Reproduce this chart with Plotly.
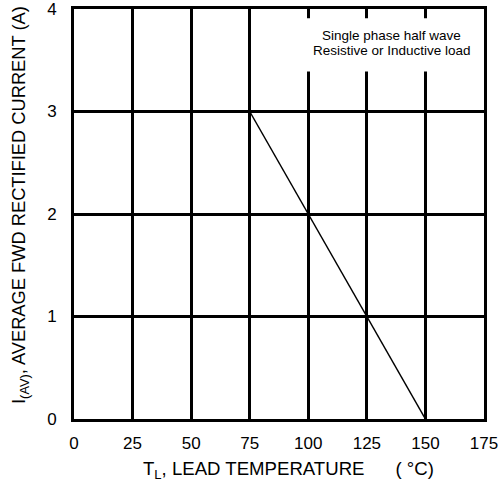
import plotly.graph_objects as go

# Data
temp_c = [75, 100, 125, 150]
current_a = [3, 2, 1, 0]
x_ticks = [0, 25, 50, 75, 100, 125, 150, 175]
y_ticks = [0, 1, 2, 3, 4]
note_lines = ["Single phase half wave", "Resistive or Inductive load"]
x_title = "T<sub>L</sub>, LEAD TEMPERATURE      ( °C)"
y_title = "I<sub>(AV)</sub>, AVERAGE FWD RECTIFIED CURRENT (A)"

FONT = "Liberation Sans, Arial, sans-serif"

fig = go.Figure()
fig.add_trace(go.Scatter(x=temp_c, y=current_a, mode="lines",
                         line=dict(color="black", width=1.5),
                         hoverinfo="skip", showlegend=False, cliponaxis=False))

# white box behind the note
fig.add_shape(type="rect", xref="x", yref="y", x0=96.5, x1=172.5, y0=3.39, y1=3.91,
              fillcolor="white", line=dict(width=0), layer="above")
for txt, yv in zip(note_lines, [3.745, 3.60]):
    fig.add_annotation(x=135.7, y=yv, xref="x", yref="y", text=txt,
                       showarrow=False, font=dict(family=FONT, size=13.5, color="black"),
                       xanchor="center", yanchor="middle")

# axis titles
fig.add_annotation(x=0.522, y=0, xref="paper", yref="paper", text=x_title,
                   showarrow=False, xanchor="center", yanchor="middle", yshift=-51,
                   font=dict(family=FONT, size=18.6, color="black"))
fig.add_annotation(x=0, y=0.522, xref="paper", yref="paper", text=y_title,
                   showarrow=False, xanchor="center", yanchor="middle", xshift=-54,
                   textangle=-90, font=dict(family=FONT, size=18.3, color="black"))

fig.update_xaxes(range=[0, 175], tickvals=x_ticks, ticktext=[str(v) for v in x_ticks],
                 showgrid=True, gridcolor="black", gridwidth=3, zeroline=False,
                 showline=True, linecolor="black", linewidth=3, mirror=True,
                 ticks="", ticklabelstandoff=7, automargin=False, ticklabeloverflow="allow",
                 tickfont=dict(family=FONT, size=17, color="black"))
fig.update_yaxes(range=[0, 4], tickvals=y_ticks, ticktext=[str(v) for v in y_ticks],
                 showgrid=True, gridcolor="black", gridwidth=3, zeroline=False,
                 showline=True, linecolor="black", linewidth=3, mirror=True,
                 ticks="", ticklabelstandoff=11, automargin=False, ticklabeloverflow="allow",
                 tickfont=dict(family=FONT, size=17, color="black"))

fig.update_layout(width=500, height=482, margin=dict(l=74, r=16, t=9, b=63, autoexpand=False),
                  plot_bgcolor="white", paper_bgcolor="white", showlegend=False)

fig.write_html("out.html", config={"displayModeBar": False},
               post_script="document.body.style.margin='0';")
